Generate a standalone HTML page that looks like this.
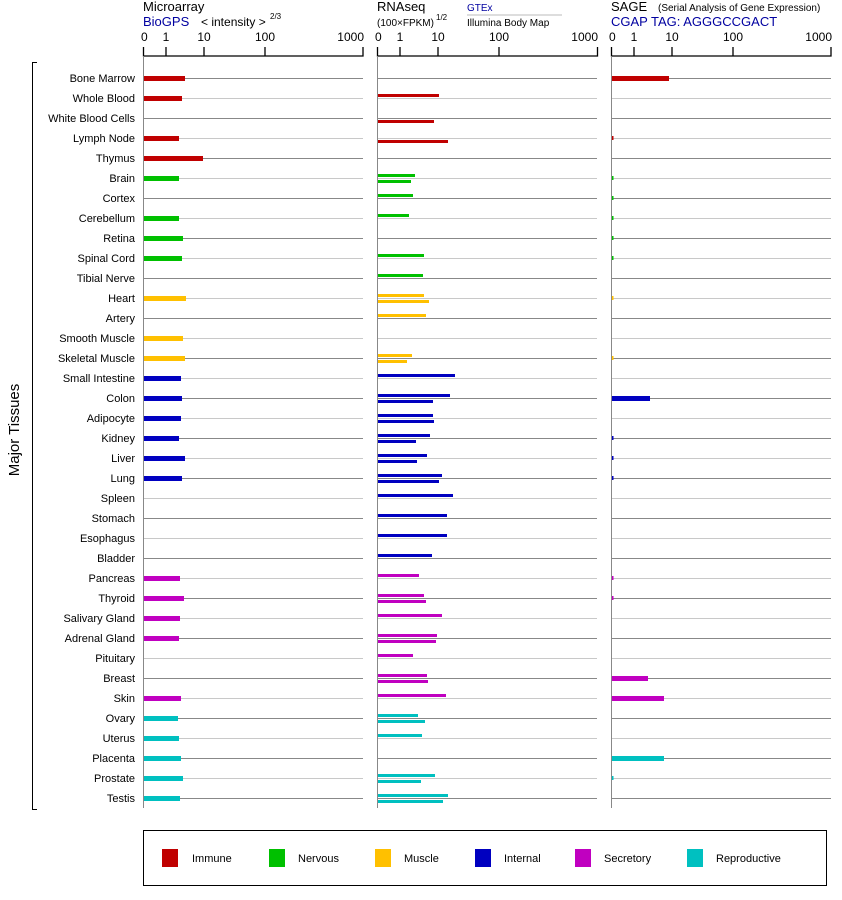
<!DOCTYPE html>
<html><head><meta charset="utf-8"><style>
body{margin:0;background:#fff;}
svg{display:block;font-family:"Liberation Sans",Arial,sans-serif;}
.lbl{font-size:11px;text-anchor:end;fill:#000}
.tk{font-size:12px;fill:#000}
.d{stroke:#888;stroke-width:1}
.l{stroke:#c8c8c8;stroke-width:1}
</style></head><body>
<svg width="842" height="900" viewBox="0 0 842 900" xmlns="http://www.w3.org/2000/svg">
<!-- headers -->
<text x="143" y="11" font-size="13">Microarray</text>
<text x="143" y="26" font-size="13" fill="#0000a0">BioGPS</text>
<text x="201" y="26" font-size="12">&lt; intensity &gt;</text>
<text x="270" y="19" font-size="8">2/3</text>
<text x="377" y="11" font-size="13">RNAseq</text>
<text x="377" y="26" font-size="10">(100×FPKM)</text>
<text x="436" y="20" font-size="8">1/2</text>
<text x="467" y="11" font-size="10" fill="#0000a0">GTEx</text>
<line x1="467" y1="15" x2="562" y2="15" stroke="#bbb"/>
<text x="467" y="26" font-size="10">Illumina Body Map</text>
<text x="611" y="11" font-size="13">SAGE</text>
<text x="658" y="11" font-size="10">(Serial Analysis of Gene Expression)</text>
<text x="611" y="26" font-size="13" fill="#0000a0">CGAP TAG: AGGGCCGACT</text>
<!-- axes -->
<g stroke="#000" stroke-width="1.3" fill="none">
<path d="M143.5 47V56H363V47M166 56V47M204 56V47M265 56V47"/>
<path d="M377.5 47V56H597.5V47M400 56V47M438 56V47M499 56V47"/>
<path d="M611.5 47V56H831V47M634 56V47M672 56V47M733 56V47"/>
</g>
<g class="tk">
<text x="141" y="41">0</text><text x="166" y="41" text-anchor="middle">1</text><text x="204" y="41" text-anchor="middle">10</text><text x="265" y="41" text-anchor="middle">100</text><text x="364" y="41" text-anchor="end">1000</text>
<text x="375" y="41">0</text><text x="400" y="41" text-anchor="middle">1</text><text x="438" y="41" text-anchor="middle">10</text><text x="499" y="41" text-anchor="middle">100</text><text x="598" y="41" text-anchor="end">1000</text>
<text x="609" y="41">0</text><text x="634" y="41" text-anchor="middle">1</text><text x="672" y="41" text-anchor="middle">10</text><text x="733" y="41" text-anchor="middle">100</text><text x="832" y="41" text-anchor="end">1000</text>
</g>
<!-- row lines -->
<g>
<path class="d" d="M144 78.5H363M378 78.5H597M612 78.5H831M144 118.5H363M378 118.5H597M612 118.5H831M144 158.5H363M378 158.5H597M612 158.5H831M144 198.5H363M378 198.5H597M612 198.5H831M144 238.5H363M378 238.5H597M612 238.5H831M144 278.5H363M378 278.5H597M612 278.5H831M144 318.5H363M378 318.5H597M612 318.5H831M144 358.5H363M378 358.5H597M612 358.5H831M144 398.5H363M378 398.5H597M612 398.5H831M144 438.5H363M378 438.5H597M612 438.5H831M144 478.5H363M378 478.5H597M612 478.5H831M144 518.5H363M378 518.5H597M612 518.5H831M144 558.5H363M378 558.5H597M612 558.5H831M144 598.5H363M378 598.5H597M612 598.5H831M144 638.5H363M378 638.5H597M612 638.5H831M144 678.5H363M378 678.5H597M612 678.5H831M144 718.5H363M378 718.5H597M612 718.5H831M144 758.5H363M378 758.5H597M612 758.5H831M144 798.5H363M378 798.5H597M612 798.5H831"/>
<path class="l" d="M144 98.5H363M378 98.5H597M612 98.5H831M144 138.5H363M378 138.5H597M612 138.5H831M144 178.5H363M378 178.5H597M612 178.5H831M144 218.5H363M378 218.5H597M612 218.5H831M144 258.5H363M378 258.5H597M612 258.5H831M144 298.5H363M378 298.5H597M612 298.5H831M144 338.5H363M378 338.5H597M612 338.5H831M144 378.5H363M378 378.5H597M612 378.5H831M144 418.5H363M378 418.5H597M612 418.5H831M144 458.5H363M378 458.5H597M612 458.5H831M144 498.5H363M378 498.5H597M612 498.5H831M144 538.5H363M378 538.5H597M612 538.5H831M144 578.5H363M378 578.5H597M612 578.5H831M144 618.5H363M378 618.5H597M612 618.5H831M144 658.5H363M378 658.5H597M612 658.5H831M144 698.5H363M378 698.5H597M612 698.5H831M144 738.5H363M378 738.5H597M612 738.5H831M144 778.5H363M378 778.5H597M612 778.5H831"/>
<path stroke="#888" d="M143.5 56V808M377.5 56V808M611.5 56V808"/>
</g>
<!-- labels -->
<g class="lbl">
<text x="135" y="82">Bone Marrow</text><text x="135" y="102">Whole Blood</text><text x="135" y="122">White Blood Cells</text><text x="135" y="142">Lymph Node</text><text x="135" y="162">Thymus</text>
<text x="135" y="182">Brain</text><text x="135" y="202">Cortex</text><text x="135" y="222">Cerebellum</text><text x="135" y="242">Retina</text><text x="135" y="262">Spinal Cord</text><text x="135" y="282">Tibial Nerve</text>
<text x="135" y="302">Heart</text><text x="135" y="322">Artery</text><text x="135" y="342">Smooth Muscle</text><text x="135" y="362">Skeletal Muscle</text>
<text x="135" y="382">Small Intestine</text><text x="135" y="402">Colon</text><text x="135" y="422">Adipocyte</text><text x="135" y="442">Kidney</text><text x="135" y="462">Liver</text><text x="135" y="482">Lung</text><text x="135" y="502">Spleen</text><text x="135" y="522">Stomach</text><text x="135" y="542">Esophagus</text><text x="135" y="562">Bladder</text>
<text x="135" y="582">Pancreas</text><text x="135" y="602">Thyroid</text><text x="135" y="622">Salivary Gland</text><text x="135" y="642">Adrenal Gland</text><text x="135" y="662">Pituitary</text><text x="135" y="682">Breast</text><text x="135" y="702">Skin</text>
<text x="135" y="722">Ovary</text><text x="135" y="742">Uterus</text><text x="135" y="762">Placenta</text><text x="135" y="782">Prostate</text><text x="135" y="802">Testis</text>
</g>
<path d="M37 62.5H32.5V809.5H37" stroke="#000" fill="none"/>
<text transform="translate(19,430) rotate(-90)" font-size="15" text-anchor="middle">Major Tissues</text>
<!-- microarray bars -->
<g fill="#c00000"><rect x="144" y="76" width="41" height="5"/><rect x="144" y="96" width="38" height="5"/><rect x="144" y="136" width="35" height="5"/><rect x="144" y="156" width="59" height="5"/></g>
<g fill="#00c000"><rect x="144" y="176" width="35" height="5"/><rect x="144" y="216" width="35" height="5"/><rect x="144" y="236" width="39" height="5"/><rect x="144" y="256" width="38" height="5"/></g>
<g fill="#ffc000"><rect x="144" y="296" width="42" height="5"/><rect x="144" y="336" width="39" height="5"/><rect x="144" y="356" width="41" height="5"/></g>
<g fill="#0000c0"><rect x="144" y="376" width="37" height="5"/><rect x="144" y="396" width="38" height="5"/><rect x="144" y="416" width="37" height="5"/><rect x="144" y="436" width="35" height="5"/><rect x="144" y="456" width="41" height="5"/><rect x="144" y="476" width="38" height="5"/></g>
<g fill="#c000c0"><rect x="144" y="576" width="36" height="5"/><rect x="144" y="596" width="40" height="5"/><rect x="144" y="616" width="36" height="5"/><rect x="144" y="636" width="35" height="5"/><rect x="144" y="696" width="37" height="5"/></g>
<g fill="#00c0c0"><rect x="144" y="716" width="34" height="5"/><rect x="144" y="736" width="35" height="5"/><rect x="144" y="756" width="37" height="5"/><rect x="144" y="776" width="39" height="5"/><rect x="144" y="796" width="36" height="5"/></g>
<!-- RNAseq bars -->
<g fill="#c00000"><rect x="378" y="94" width="61" height="3"/><rect x="378" y="120" width="56" height="3"/><rect x="378" y="140" width="70" height="3"/></g>
<g fill="#00c000"><rect x="378" y="174" width="37" height="3"/><rect x="378" y="180" width="33" height="3"/><rect x="378" y="194" width="35" height="3"/><rect x="378" y="214" width="31" height="3"/><rect x="378" y="254" width="46" height="3"/><rect x="378" y="274" width="45" height="3"/></g>
<g fill="#ffc000"><rect x="378" y="294" width="46" height="3"/><rect x="378" y="300" width="51" height="3"/><rect x="378" y="314" width="48" height="3"/><rect x="378" y="354" width="34" height="3"/><rect x="378" y="360" width="29" height="3"/></g>
<g fill="#0000c0"><rect x="378" y="374" width="77" height="3"/><rect x="378" y="394" width="72" height="3"/><rect x="378" y="400" width="55" height="3"/><rect x="378" y="414" width="55" height="3"/><rect x="378" y="420" width="56" height="3"/><rect x="378" y="434" width="52" height="3"/><rect x="378" y="440" width="38" height="3"/><rect x="378" y="454" width="49" height="3"/><rect x="378" y="460" width="39" height="3"/><rect x="378" y="474" width="64" height="3"/><rect x="378" y="480" width="61" height="3"/><rect x="378" y="494" width="75" height="3"/><rect x="378" y="514" width="69" height="3"/><rect x="378" y="534" width="69" height="3"/><rect x="378" y="554" width="54" height="3"/></g>
<g fill="#c000c0"><rect x="378" y="574" width="41" height="3"/><rect x="378" y="594" width="46" height="3"/><rect x="378" y="600" width="48" height="3"/><rect x="378" y="614" width="64" height="3"/><rect x="378" y="634" width="59" height="3"/><rect x="378" y="640" width="58" height="3"/><rect x="378" y="654" width="35" height="3"/><rect x="378" y="674" width="49" height="3"/><rect x="378" y="680" width="50" height="3"/><rect x="378" y="694" width="68" height="3"/></g>
<g fill="#00c0c0"><rect x="378" y="714" width="40" height="3"/><rect x="378" y="720" width="47" height="3"/><rect x="378" y="734" width="44" height="3"/><rect x="378" y="774" width="57" height="3"/><rect x="378" y="780" width="43" height="3"/><rect x="378" y="794" width="70" height="3"/><rect x="378" y="800" width="65" height="3"/></g>
<!-- SAGE bars -->
<g fill="#c00000"><rect x="612" y="76" width="57" height="5"/><rect x="612" y="136" width="1.5" height="4"/></g>
<g fill="#00c000"><rect x="612" y="176" width="1.5" height="4"/><rect x="612" y="196" width="1.5" height="4"/><rect x="612" y="216" width="1.5" height="4"/><rect x="612" y="236" width="1.5" height="4"/><rect x="612" y="256" width="1.5" height="4"/></g>
<g fill="#ffc000"><rect x="612" y="296" width="1.5" height="4"/><rect x="612" y="356" width="1.5" height="4"/></g>
<g fill="#0000c0"><rect x="612" y="396" width="38" height="5"/><rect x="612" y="436" width="1.5" height="4"/><rect x="612" y="456" width="1.5" height="4"/><rect x="612" y="476" width="1.5" height="4"/></g>
<g fill="#c000c0"><rect x="612" y="576" width="1.5" height="4"/><rect x="612" y="596" width="1.5" height="4"/><rect x="612" y="676" width="36" height="5"/><rect x="612" y="696" width="52" height="5"/></g>
<g fill="#00c0c0"><rect x="612" y="756" width="52" height="5"/><rect x="612" y="776" width="1.5" height="4"/></g>
<!-- legend -->
<rect x="143.5" y="830.5" width="683" height="55" fill="none" stroke="#000"/>
<rect x="162" y="849" width="16" height="18" fill="#c00000"/><text x="192" y="862" font-size="11">Immune</text>
<rect x="269" y="849" width="16" height="18" fill="#00c000"/><text x="298" y="862" font-size="11">Nervous</text>
<rect x="375" y="849" width="16" height="18" fill="#ffc000"/><text x="404" y="862" font-size="11">Muscle</text>
<rect x="475" y="849" width="16" height="18" fill="#0000c0"/><text x="504" y="862" font-size="11">Internal</text>
<rect x="575" y="849" width="16" height="18" fill="#c000c0"/><text x="604" y="862" font-size="11">Secretory</text>
<rect x="687" y="849" width="16" height="18" fill="#00c0c0"/><text x="716" y="862" font-size="11">Reproductive</text>
</svg>
</body></html>
